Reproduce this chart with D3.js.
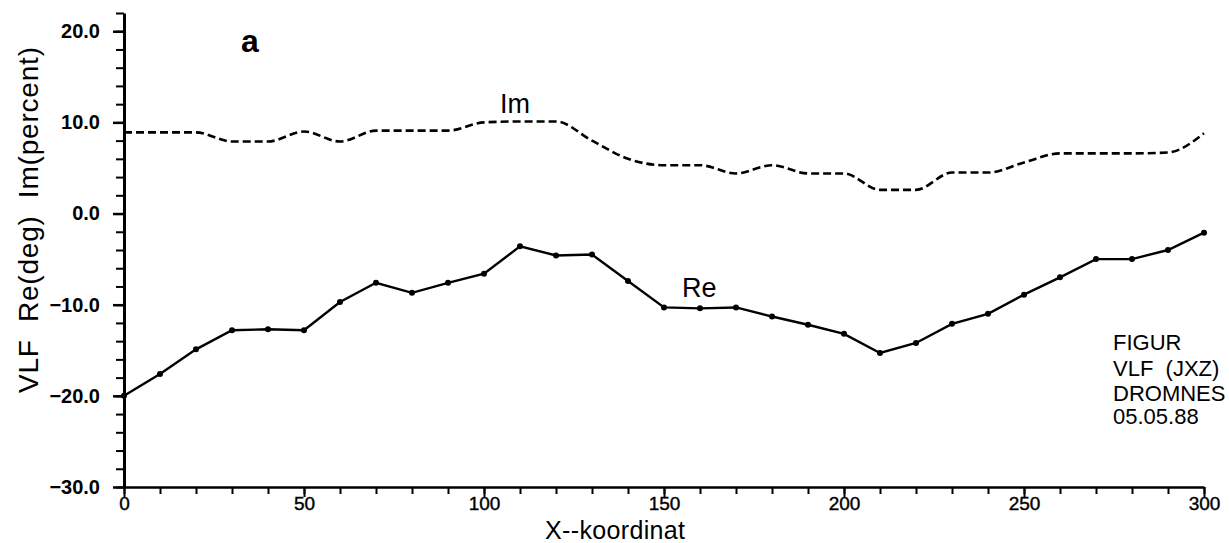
<!DOCTYPE html>
<html>
<head>
<meta charset="utf-8">
<script src="https://cdn.jsdelivr.net/npm/d3@7/dist/d3.min.js"></script>
<style>
  html, body { margin: 0; padding: 0; background: #fff; }
  svg { display: block; }
  text { font-family: "Liberation Sans", Arial, sans-serif; fill: #000; }
</style>
</head>
<body>
<svg id="chart" width="1229" height="543"></svg>
<script>
// ---- data ----
const xCoords = [0,10,20,30,40,50,60,70,80,90,100,110,120,130,140,150,160,170,180,190,200,210,220,230,240,250,260,270,280,290,300];
const reValues = [-20.0,-17.6,-14.9,-12.8,-12.7,-12.8,-9.7,-7.6,-8.7,-7.6,-6.6,-3.6,-4.6,-4.5,-7.4,-10.3,-10.4,-10.3,-11.3,-12.2,-13.2,-15.3,-14.2,-12.1,-11.0,-8.9,-7.0,-5.0,-5.0,-4.0,-2.1];
const imValues = [8.9,8.9,8.9,7.9,7.9,9.0,7.9,9.1,9.1,9.1,10.0,10.1,10.1,8.0,6.0,5.3,5.3,4.4,5.3,4.4,4.4,2.6,2.6,4.5,4.5,5.6,6.6,6.6,6.6,6.7,8.8];
const yMajorTicks = [-30,-20,-10,0,10,20];
const xMajorTicks = [0,50,100,150,200,250,300];
const infoLines = ["FIGUR", "VLF  (JXZ)", "DROMNES", "05.05.88"];

// ---- layout ----
const svg = d3.select("#chart");
const x = d3.scaleLinear().domain([0, 300]).range([124, 1204]);
const y = d3.scaleLinear().domain([-30, 22]).range([487, 13]);

// minor y ticks
svg.append("g")
  .attr("transform", `translate(${x(0)},0)`)
  .call(d3.axisLeft(y).tickValues(d3.range(-30, 23, 2)).tickSize(8).tickSizeOuter(0).tickFormat(""))
  .call(g => g.select(".domain").attr("stroke-width", 3))
  .call(g => g.selectAll(".tick line").attr("stroke-width", 2));
// major y ticks + labels
svg.append("g")
  .attr("transform", `translate(${x(0)},0)`)
  .call(d3.axisLeft(y).tickValues(yMajorTicks).tickSize(11).tickSizeOuter(0).tickPadding(13).tickFormat(d => d3.format(".1f")(d).replace("-", "\u2212")))
  .call(g => g.select(".domain").remove())
  .call(g => g.selectAll(".tick line").attr("stroke-width", 2.5))
  .call(g => g.selectAll("text").attr("font-size", 20).attr("font-weight", "bold").attr("font-family", "Liberation Sans, Arial, sans-serif"));

// minor x ticks
svg.append("g")
  .attr("transform", `translate(0,${y(-30)})`)
  .call(d3.axisBottom(x).tickValues(d3.range(0, 301, 10)).tickSize(7).tickSizeOuter(0).tickFormat(""))
  .call(g => g.select(".domain").attr("stroke-width", 2.5))
  .call(g => g.selectAll(".tick line").attr("stroke-width", 2));
// major x ticks + labels
svg.append("g")
  .attr("transform", `translate(0,${y(-30)})`)
  .call(d3.axisBottom(x).tickValues(xMajorTicks).tickSize(10).tickSizeOuter(0).tickPadding(0).tickFormat(d3.format("d")))
  .call(g => g.select(".domain").remove())
  .call(g => g.selectAll(".tick line").attr("stroke-width", 2))
  .call(g => g.selectAll("text").attr("font-size", 19).attr("font-family", "Liberation Sans, Arial, sans-serif").attr("stroke", "#000").attr("stroke-width", 0.4));

// Im line (dashed, smooth)
const imData = xCoords.map((d, i) => [d, imValues[i]]);
svg.append("path")
  .datum(imData)
  .attr("fill", "none")
  .attr("stroke", "#000")
  .attr("stroke-width", 2.6)
  .attr("stroke-dasharray", "8,4")
  .attr("d", d3.line().x(d => x(d[0])).y(d => y(d[1])).curve(d3.curveMonotoneX));

// Re line (solid with point marks)
const reData = xCoords.map((d, i) => [d, reValues[i]]);
svg.append("path")
  .datum(reData)
  .attr("fill", "none")
  .attr("stroke", "#000")
  .attr("stroke-width", 2.4)
  .attr("d", d3.line().x(d => x(d[0])).y(d => y(d[1])));
svg.append("g").selectAll("circle")
  .data(reData)
  .join("circle")
  .attr("cx", d => x(d[0]))
  .attr("cy", d => y(d[1]))
  .attr("r", 3)
  .attr("fill", "#000");

// labels
svg.append("text").attr("x", 241).attr("y", 52).attr("font-size", 32).attr("font-weight", "bold").text("a");
svg.append("text").attr("x", 500).attr("y", 113).attr("font-size", 27).text("Im");
svg.append("text").attr("x", 682).attr("y", 297).attr("font-size", 27).text("Re");

svg.append("text")
  .attr("x", 615).attr("y", 539)
  .attr("text-anchor", "middle")
  .attr("font-size", 25)
  .attr("textLength", 140)
  .attr("lengthAdjust", "spacing")
  .text("X--koordinat");

svg.append("text")
  .attr("transform", "translate(38,220) rotate(-90)")
  .attr("text-anchor", "middle")
  .attr("font-size", 28)
  .attr("textLength", 346)
  .attr("lengthAdjust", "spacing")
  .style("white-space", "pre")
  .text("VLF  Re(deg)  Im(percent)");

const infoBase = [350, 376, 401, 424];
svg.append("g").selectAll("text")
  .data(infoLines)
  .join("text")
  .attr("x", 1113)
  .attr("y", (d, i) => infoBase[i])
  .attr("font-size", 22)
  .style("white-space", "pre")
  .text(d => d);
</script>
</body>
</html>
